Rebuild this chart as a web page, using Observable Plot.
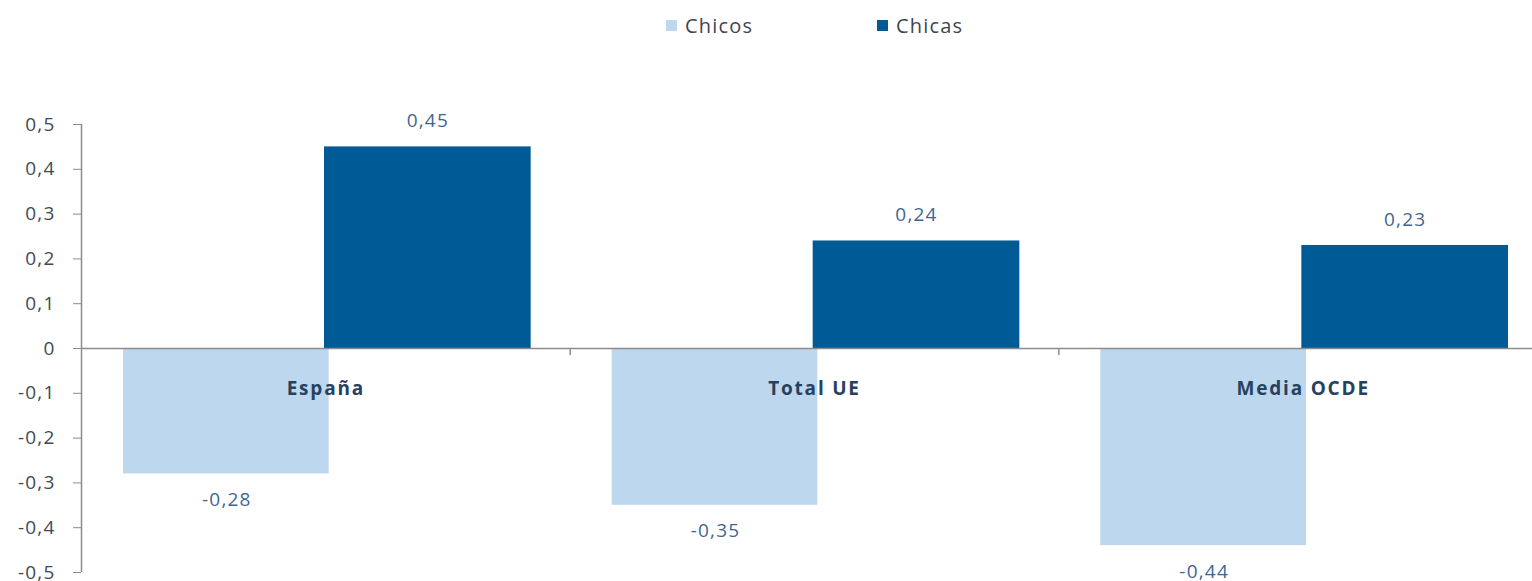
<!DOCTYPE html>
<html><head><meta charset="utf-8">
<script src="https://cdn.jsdelivr.net/npm/d3@7"></script>
<script src="https://cdn.jsdelivr.net/npm/@observablehq/plot@0.6"></script>
<style>
body{margin:0;background:#fff;overflow:hidden;font-family:"Open Sans",sans-serif}
#legend{position:relative;height:60px;width:1532px}
.item{position:absolute;top:12px;display:flex;align-items:center;font-size:20px;letter-spacing:1.2px;color:#3d4650}
.sw{width:11px;height:11px;margin-right:8px}
#chart svg text{letter-spacing:1.2px}
#chart svg g.cat text{letter-spacing:1.8px}
</style></head><body>
<div id="legend"></div><div id="chart"></div>
<script>
const countries = ["España", "Total UE", "Media OCDE"];
const chicos = [-0.28, -0.35, -0.44];
const chicas = [0.45, 0.24, 0.23];
const series = ["Chicos", "Chicas"];
const colors = ["#BDD7EE", "#005A96"];
const yTicks = [-0.5, -0.4, -0.3, -0.2, -0.1, 0, 0.1, 0.2, 0.3, 0.4, 0.5];

const fmt = v => v === 0 ? "0" : String(v).replace(".", ",");
const rows = countries.map((c, i) => ({country: c, i, chicos: chicos[i], chicas: chicas[i]}));

// legend
const legend = document.getElementById("legend");
const legendLeft = [666, 877];
series.forEach((s, k) => {
  const it = document.createElement("div");
  it.className = "item";
  it.style.left = legendLeft[k] + "px";
  it.innerHTML = `<span class="sw" style="background:${colors[k]}"></span><span>${s}</span>`;
  legend.appendChild(it);
});

const axisGray = "#8c8c8c";
const chart = Plot.plot({
  width: 1532,
  height: 521,
  marginTop: 64,
  marginBottom: 9,
  marginLeft: 81,
  marginRight: 0,
  style: {fontFamily: "Open Sans, sans-serif", background: "#fff"},
  x: {domain: [0, countries.length], range: [81, 1547], axis: null},
  y: {domain: [-0.5, 0.5]},
  marks: [
    Plot.rectY(rows, {x1: "i", x2: d => d.i + 1, y1: 0, y2: "chicos", fill: colors[0], insetLeft: 42, insetRight: 241}),
    Plot.rectY(rows, {x1: "i", x2: d => d.i + 1, y1: 0, y2: "chicas", fill: colors[1], insetLeft: 243, insetRight: 39}),
    Plot.ruleY([0], {stroke: axisGray, strokeWidth: 1.5}),
    Plot.ruleX([0], {stroke: axisGray, strokeWidth: 1.5}),
    Plot.ruleX([1, 2], {x: d => d, y1: 0, y2: 0, insetTop: 0, insetBottom: -7, stroke: axisGray, strokeWidth: 1.5}),
    Plot.axisY({ticks: yTicks, tickFormat: fmt, tickSize: 8, tickPadding: 18, fontSize: 19, stroke: axisGray, fill: "#404a55"}),
    Plot.text(rows, {x: d => d.i + 0.5, y: 0, text: "country", dy: 40, fontWeight: "bold", fontSize: 19, fill: "#27415e", className: "cat"}),
    Plot.text(rows, {x: d => d.i + 0.5, y: "chicas", text: d => fmt(d.chicas), dx: 102, dy: -26, fontSize: 19, fill: "#3f6690"}),
    Plot.text(rows, {x: d => d.i + 0.5, y: "chicos", text: d => fmt(d.chicos), dx: -99, dy: 26, fontSize: 19, fill: "#3f6690"})
  ]
});
document.getElementById("chart").appendChild(chart);
</script>
</body></html>
